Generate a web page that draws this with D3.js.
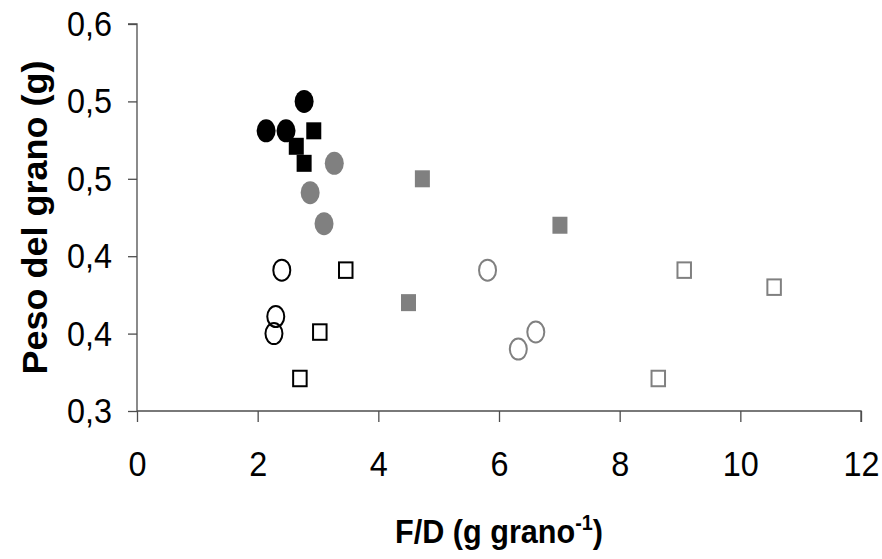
<!DOCTYPE html>
<html>
<head>
<meta charset="utf-8">
<script src="https://cdn.jsdelivr.net/npm/d3@7"></script>
<style>
  html, body { margin: 0; padding: 0; background: #fff; }
  svg { display: block; }
</style>
</head>
<body>
<svg id="chart" width="882" height="559"></svg>
<script>
// ---- data ----
const xTicks = [0, 2, 4, 6, 8, 10, 12];
const xTickLabels = ["0", "2", "4", "6", "8", "10", "12"];
const yTicks = [0.30, 0.35, 0.40, 0.45, 0.50, 0.55];
const yTickLabels = ["0,3", "0,4", "0,4", "0,5", "0,5", "0,6"];

const blackFilledCircles = [[2.14, 0.481], [2.47, 0.481], [2.77, 0.500]];
const blackFilledSquares = [[2.93, 0.481], [2.64, 0.471], [2.77, 0.460]];
const grayFilledCircles  = [[3.27, 0.460], [2.87, 0.441], [3.10, 0.421]];
const grayFilledSquares  = [[4.73, 0.450], [7.01, 0.420], [4.50, 0.370]];
const blackOpenCircles   = [[2.40, 0.391], [2.30, 0.361], [2.27, 0.350]];
const blackOpenSquares   = [[3.46, 0.391], [3.03, 0.351], [2.70, 0.321]];
const grayOpenCircles    = [[5.81, 0.391], [6.61, 0.351], [6.32, 0.340]];
const grayOpenSquares    = [[9.07, 0.391], [10.56, 0.380], [8.64, 0.321]];

const series = [
  { data: blackFilledCircles, shape: "circle", color: "#000000", filled: true },
  { data: blackFilledSquares, shape: "square", color: "#000000", filled: true },
  { data: grayFilledCircles,  shape: "circle", color: "#808080", filled: true },
  { data: grayFilledSquares,  shape: "square", color: "#808080", filled: true },
  { data: blackOpenCircles,   shape: "circle", color: "#000000", filled: false },
  { data: blackOpenSquares,   shape: "square", color: "#000000", filled: false },
  { data: grayOpenCircles,    shape: "circle", color: "#808080", filled: false },
  { data: grayOpenSquares,    shape: "square", color: "#808080", filled: false }
];

// ---- layout ----
const svg = d3.select("#chart");
svg.append("rect").attr("width", 882).attr("height", 559).attr("fill", "#fff");

const x = d3.scaleLinear().domain([0, 12]).range([137, 861]);
const y = d3.scaleLinear().domain([0.30, 0.55]).range([411, 24]);

const axisColor = "#4d4d4d";
const tickFont = "'Liberation Sans', Arial, sans-serif";
const squeeze = 0.9;

// y axis
const yAxis = d3.axisLeft(y).tickValues(yTicks)
  .tickFormat((d, i) => yTickLabels[i]).tickSize(9).tickPadding(16);
const gy = svg.append("g").attr("transform", `translate(${x(0)},0)`).call(yAxis);
gy.select(".domain").attr("stroke", axisColor).attr("stroke-width", 1.3)
  .attr("d", `M-9,${y(0.55)}H0V${y(0.30)}`);
gy.selectAll(".tick line").attr("stroke", axisColor).attr("stroke-width", 1.3);
gy.selectAll(".tick text").attr("fill", "#000").style("font-family", tickFont)
  .style("font-size", "36px")
  .attr("x", 0).attr("transform", `translate(-25,0) scale(${squeeze},1)`);

// x axis
const xAxis = d3.axisBottom(x).tickValues(xTicks)
  .tickFormat((d, i) => xTickLabels[i]).tickSize(11).tickPadding(28);
const gx = svg.append("g").attr("transform", `translate(0,${y(0.30)})`).call(xAxis);
gx.select(".domain").attr("stroke", axisColor).attr("stroke-width", 1.3)
  .attr("d", `M${x(0)},0H${x(12)}V11`);
gx.selectAll(".tick line").attr("stroke", axisColor).attr("stroke-width", 1.3);
gx.selectAll(".tick text").attr("fill", "#000").style("font-family", tickFont)
  .style("font-size", "36px")
  .attr("y", 0).attr("transform", `translate(0,39) scale(${squeeze},1)`);

// axis titles
svg.append("text")
  .attr("transform", `translate(47,${(y(0.30) + y(0.55)) / 2}) rotate(-90) scale(1,0.95)`)
  .attr("text-anchor", "middle")
  .style("font-family", "'Liberation Sans', Arial, sans-serif")
  .style("font-weight", "bold").style("font-size", "36px")
  .text("Peso del grano (g)");

const xt = svg.append("text")
  .attr("text-anchor", "middle")
  .attr("transform", `translate(${(x(0) + x(12)) / 2},543) scale(0.9,1)`)
  .style("font-family", tickFont)
  .style("font-weight", "bold").style("font-size", "34px");
xt.append("tspan").text("F/D (g grano");
xt.append("tspan").attr("dy", -13).style("font-size", "22px").text("-1");
xt.append("tspan").attr("dy", 13).text(")");

// points
const plot = svg.append("g");
series.forEach(s => {
  const g = plot.append("g");
  const sw = 2;
  if (s.shape === "circle") {
    g.selectAll("ellipse").data(s.data).join("ellipse")
      .attr("cx", d => x(d[0])).attr("cy", d => y(d[1]))
      .attr("rx", s.filled ? 9.5 : 8.5).attr("ry", s.filled ? 11.5 : 10.5)
      .attr("fill", s.filled ? s.color : "none")
      .attr("stroke", s.filled ? "none" : s.color)
      .attr("stroke-width", sw);
  } else {
    const w = s.filled ? 15 : 13.5, h = s.filled ? 17 : 15.5;
    g.selectAll("rect").data(s.data).join("rect")
      .attr("x", d => x(d[0]) - w / 2).attr("y", d => y(d[1]) - h / 2)
      .attr("width", w).attr("height", h)
      .attr("fill", s.filled ? s.color : "none")
      .attr("stroke", s.filled ? "none" : s.color)
      .attr("stroke-width", sw);
  }
});
</script>
</body>
</html>
